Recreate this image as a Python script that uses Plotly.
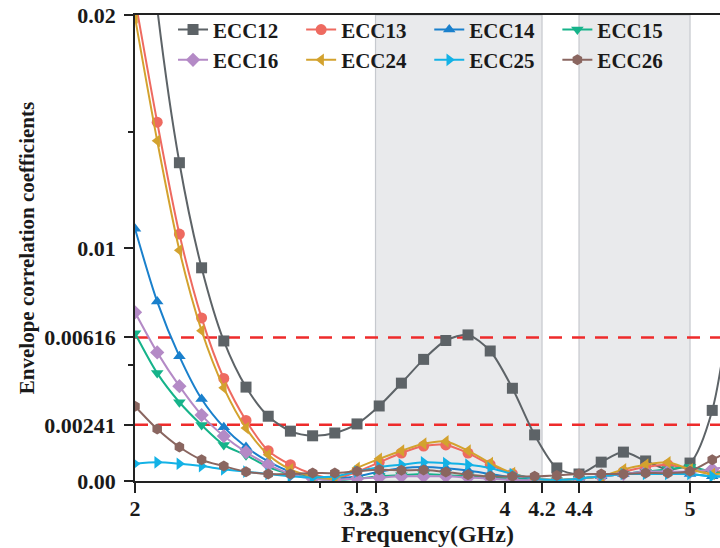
import plotly.graph_objects as go

# ---------------- data ----------------
freq = [2.00, 2.12, 2.24, 2.36, 2.48, 2.60, 2.72, 2.84, 2.96, 3.08, 3.20, 3.32, 3.44, 3.56,
        3.68, 3.80, 3.92, 4.04, 4.16, 4.28, 4.40, 4.52, 4.64, 4.76, 4.88, 5.00, 5.12, 5.24]

ecc12 = [0.0300, 0.0203, 0.01366, 0.00915, 0.00601, 0.00403, 0.00278, 0.00214, 0.00194, 0.00206,
         0.00245, 0.00322, 0.00420, 0.00522, 0.00603, 0.00627, 0.00558, 0.00398, 0.00198, 0.00056,
         0.00030, 0.00081, 0.00124, 0.00086, 0.00050, 0.00077, 0.00303, 0.00900]
ecc13 = [0.0207, 0.0154, 0.0106, 0.0070, 0.0044, 0.0026, 0.0013, 0.0007, 0.0003, 0.0001,
         0.0004, 0.0008, 0.0012, 0.0015, 0.00155, 0.0012, 0.0007, 0.0003, 0.0001, 0.00005,
         0.0001, 0.0002, 0.0004, 0.0006, 0.0007, 0.0005, 0.0004, 0.0005]
ecc14 = [0.01083, 0.0077, 0.00535, 0.00352, 0.00231, 0.00146, 0.00084, 0.0004, 0.0002, 0.0001,
         0.0002, 0.0004, 0.00055, 0.0006, 0.00055, 0.00045, 0.0003, 0.00015, 0.00005, 0.00003,
         0.0001, 0.0002, 0.0003, 0.0004, 0.0004, 0.0003, 0.0002, 0.0002]
ecc15 = [0.00634, 0.00463, 0.00338, 0.0024, 0.00155, 0.00111, 0.0006, 0.0003, 0.00012, 0.00005,
         0.0001, 0.0002, 0.00025, 0.0003, 0.00025, 0.0002, 0.00015, 0.0001, 0.00005, 0.00003,
         0.0001, 0.0002, 0.0003, 0.0004, 0.0005, 0.0006, 0.0004, 0.0003]
ecc16 = [0.00724, 0.00552, 0.00407, 0.00283, 0.00193, 0.00124, 0.0007, 0.0003, 0.0001, 0.00005,
         0.0001, 0.00015, 0.0002, 0.0002, 0.0002, 0.00015, 0.0001, 0.00005, 0.00003, 0.00003,
         0.0001, 0.0002, 0.0003, 0.0004, 0.0004, 0.0004, 0.0005, 0.0007]
ecc24 = [0.0199, 0.0146, 0.0099, 0.00645, 0.0040, 0.00227, 0.00113, 0.0005, 0.0002, 0.0001,
         0.00056, 0.00095, 0.0013, 0.0016, 0.0017, 0.0013, 0.00077, 0.00034, 0.0001, 0.00005,
         0.0001, 0.0002, 0.0005, 0.0007, 0.0008, 0.0005, 0.0003, 0.0004]
ecc25 = [0.00074, 0.0008, 0.00074, 0.00064, 0.0005, 0.0004, 0.0003, 0.0002, 0.00015, 0.0002,
         0.0004, 0.0006, 0.0007, 0.0008, 0.00077, 0.0007, 0.00056, 0.0003, 0.0001, 0.00005,
         0.0001, 0.0002, 0.0003, 0.0003, 0.0003, 0.0003, 0.0002, 0.0002]
ecc26 = [0.00321, 0.00223, 0.00146, 0.00091, 0.00064, 0.0004, 0.0003, 0.0003, 0.00034, 0.00034,
         0.00042, 0.00048, 0.00046, 0.00047, 0.00039, 0.00027, 0.0002, 0.0002, 0.0002, 0.00024,
         0.0003, 0.0003, 0.0003, 0.00034, 0.00034, 0.00042, 0.00091, 0.0014]

series_names = ["ECC12", "ECC13", "ECC14", "ECC15", "ECC16", "ECC24", "ECC25", "ECC26"]
series_values = [ecc12, ecc13, ecc14, ecc15, ecc16, ecc24, ecc25, ecc26]

bands = [(3.3, 4.2), (4.4, 5.0)]
limits = [0.00616, 0.00241]

x_tickvals = [2, 3.2, 3.3, 4, 4.2, 4.4, 5]
x_ticktext = ["2", "3.2", "3.3", "4", "4.2", "4.4", "5"]
y_tickvals = [0, 0.00241, 0.00616, 0.01, 0.02]
y_ticktext = ["0.00", "0.00241", "0.00616", "0.01", "0.02"]

# ---------------- styles ----------------
colors = ["#5d6367", "#ee6a60", "#1a80cc", "#16b38a", "#b48ac6", "#d3a22e", "#13b2e6", "#8a6660"]
symbols = ["square", "circle", "triangle-up", "triangle-down", "diamond",
           "triangle-left", "triangle-right", "hexagon"]
FONT = "Liberation Serif"

fig = go.Figure()

for name, vals, c, s in zip(series_names, series_values, colors, symbols):
    fig.add_trace(go.Scatter(
        x=freq, y=vals, name=name, mode="lines+markers",
        line=dict(color=c, width=2, shape="spline", smoothing=0.8),
        marker=dict(symbol=s, size=11, color=c, line=dict(width=0)),
    ))

for x0, x1 in bands:
    fig.add_shape(type="rect", xref="x", yref="paper", x0=x0, x1=x1, y0=0, y1=1,
                  fillcolor="#e9eaec", line=dict(color="#c6c9ce", width=1.2), layer="below")
for v in limits:
    fig.add_shape(type="line", xref="paper", yref="y", x0=0, x1=1, y0=v, y1=v,
                  line=dict(color="#ee2b2b", width=2.5, dash="13px,10px"), layer="below")

fig.update_layout(
    width=720, height=548,
    margin=dict(l=135, r=0, t=15, b=67),
    paper_bgcolor="white", plot_bgcolor="white",
    font=dict(family=FONT, color="#1a1a1a", size=21, weight="bold"),
    showlegend=True,
    legend=dict(
        orientation="h", x=0.065, y=1.012, xanchor="left", yanchor="top",
        bgcolor="rgba(0,0,0,0)", borderwidth=0,
        font=dict(family=FONT, size=21, color="#1a1a1a", weight="bold"),
        entrywidthmode="fraction", entrywidth=0.219,
        tracegroupgap=0,
    ),
)

fig.update_xaxes(
    range=[2, 5.162], showgrid=False, zeroline=False,
    showline=True, linecolor="#222222", linewidth=1.5, mirror=True,
    ticks="outside", ticklen=10, tickwidth=1.5, tickcolor="#222222",
    tickmode="array", tickvals=x_tickvals, ticktext=x_ticktext, tickangle=0,
    ticklabelstandoff=-3,
    tickfont=dict(family=FONT, size=22, weight="bold"),
    minor=dict(tickmode="array", tickvals=[3], ticks="outside", ticklen=5, tickcolor="#222222"),
    title=dict(text="Frequency(GHz)", font=dict(family=FONT, size=24, weight="bold"), standoff=0),
)
fig.update_yaxes(
    range=[0, 0.02], showgrid=False, zeroline=False,
    showline=True, linecolor="#222222", linewidth=1.5, mirror=False,
    ticks="outside", ticklen=9, tickwidth=1.5, tickcolor="#222222",
    tickmode="array", tickvals=y_tickvals, ticktext=y_ticktext,
    ticklabelstandoff=4,
    tickfont=dict(family=FONT, size=22, weight="bold"),
    minor=dict(tickmode="array", tickvals=[0.005, 0.015], ticks="outside", ticklen=5, tickcolor="#222222"),
    title=dict(text="Envelope correlation coefficients", font=dict(family=FONT, size=21, weight="bold"), standoff=4),
)

# remove the browser's default 8px page margin so the figure fills the window exactly
fig.write_html("out.html", config={"displayModeBar": False},
               post_script="document.body.style.margin='0';")
